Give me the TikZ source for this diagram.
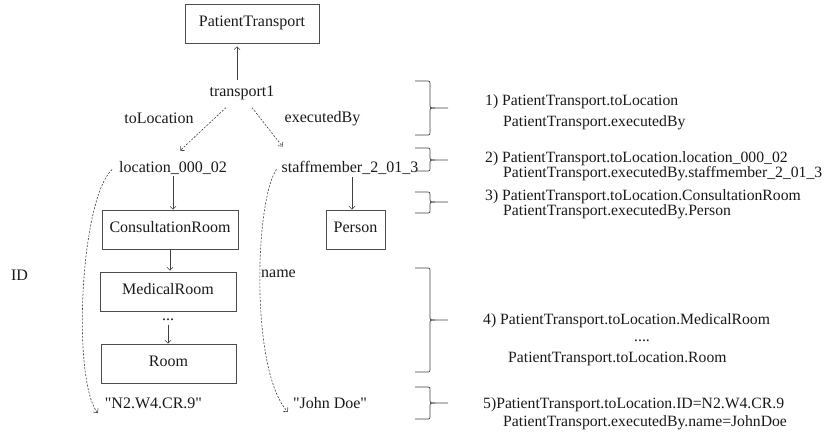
\documentclass[tikz,border=0pt]{standalone}
\usepackage{fontspec}
\setmainfont{Liberation Serif}
\newfontfamily\qfont{Liberation Serif}
\usetikzlibrary{arrows.meta}
\newcommand\RBrace[3]{%
  \draw[brc] (415,#1) -- (426,#1) .. controls (430,#1) .. (430,#1+4) -- (430,#2-4)
    .. controls (430,#2) .. (435,#2) -- (448,#2);
  \draw[brc] (435,#2) .. controls (430,#2) .. (430,#2+4) -- (430,#3-4)
    .. controls (430,#3) .. (426,#3) -- (415,#3);
}
\begin{document}
\begin{tikzpicture}[x=1pt,y=-1pt,
  every node/.style={font=\fontsize{16}{19}\selectfont, inner sep=0pt, text=black!90},
  box/.style={draw=black!70, line width=0.7pt, minimum height=39pt, text height=11pt, text depth=5pt},
  arr/.style={draw=black!75, line width=0.6pt, -{Straight Barb[length=3pt,width=6pt]}},
  darr/.style={arr, dash pattern=on 2pt off 1.5pt},
  lbl/.style={anchor=base},
  rt/.style={anchor=base west, font=\fontsize{15.7}{19}\selectfont},
  brc/.style={draw=black!75, line width=0.7pt}]
\useasboundingbox (0,0) rectangle (830,432);

% left graph
\node[box, minimum width=134pt] (pt) at (252,23.5) {PatientTransport};
\node[lbl] (t1) at (242,96) {transport1};
\node[lbl] (tol) at (159,123) {toLocation};
\node[lbl] (exb) at (322.5,122) {executedBy};
\node[lbl] (loc) at (173,172) {location\_000\_02};
\node[lbl] (staff) at (350,172) {staffmember\_2\_01\_3};
\node[box, minimum width=136pt] (cr) at (170,229.5) {ConsultationRoom};
\node[box, minimum width=136pt] (mr) at (168,291.5) {MedicalRoom};
\node[lbl] (dots) at (168,320) {...};
\node[box, minimum width=135pt] (room) at (168.5,363.5) {Room};
\node[box, minimum width=59pt] (person) at (355.5,229.5) {Person};
\node[lbl] (id) at (19.5,280) {ID};
\node[lbl] (name) at (278.5,277) {name};
\node[lbl] (n2) at (153.5,408) {\qfont "N2.W4.CR.9"};
\node[lbl] (jd) at (330,408) {\qfont "John Doe"};

\draw[arr, shorten <=5pt, shorten >=3pt] ([xshift=-5pt]t1.north) -- ([xshift=-5pt]t1.north |- pt.south);
\draw[darr] ([shift={(-16,8)}]t1.south) -- ([shift={(7,-10)}]loc.north);
\draw[darr] ([shift={(10,8)}]t1.south) -- ([shift={(1,-14)}]staff.north west);
\draw[arr, shorten <=2pt] (loc.south) -- (loc.south |- cr.north);
\draw[arr, shorten >=1pt] (cr.south) -- (cr.south |- mr.north);
\draw[arr, shorten <=5pt] (dots.south) -- (dots.south |- room.north);
\draw[arr, shorten <=3pt] ([xshift=2pt]staff.south) -- ([xshift=2pt]staff.south |- person.north);
\draw[darr] ([shift={(-7,2)}]loc.west) .. controls (80,200) and (72,380) .. ([shift={(-7,5)}]n2.base west);
\draw[darr] ([shift={(-5,2)}]staff.west) .. controls (255,200) and (250,370) .. ([shift={(-5,4)}]jd.base west);

% braces
\RBrace{81}{108}{135}
\RBrace{148}{160}{171}
\RBrace{192}{202}{213}
\RBrace{268}{320}{372}
\RBrace{387}{403}{419}

% right texts
\node[rt] (r1a) at (485,105) {1) PatientTransport.toLocation};
\node[rt] (r1b) at (503,126) {PatientTransport.executedBy};
\node[rt] (r2a) at (485,162) {2) PatientTransport.toLocation.location\_000\_02};
\node[rt] (r2b) at (503,177) {PatientTransport.executedBy.staffmember\_2\_01\_3};
\node[rt] (r3a) at (485,200) {3) PatientTransport.toLocation.ConsultationRoom};
\node[rt] (r3b) at (503,215) {PatientTransport.executedBy.Person};
\node[rt] (r4a) at (483,324) {4) PatientTransport.toLocation.MedicalRoom};
\node[lbl, font=\fontsize{15.7}{19}\selectfont] (r4d) at (642,341) {....};
\node[rt] (r4b) at (508,362) {PatientTransport.toLocation.Room};
\node[rt] (r5a) at (483,408) {5)PatientTransport.toLocation.ID=N2.W4.CR.9};
\node[rt] (r5b) at (503,426) {PatientTransport.executedBy.name=JohnDoe};
\end{tikzpicture}
\end{document}
